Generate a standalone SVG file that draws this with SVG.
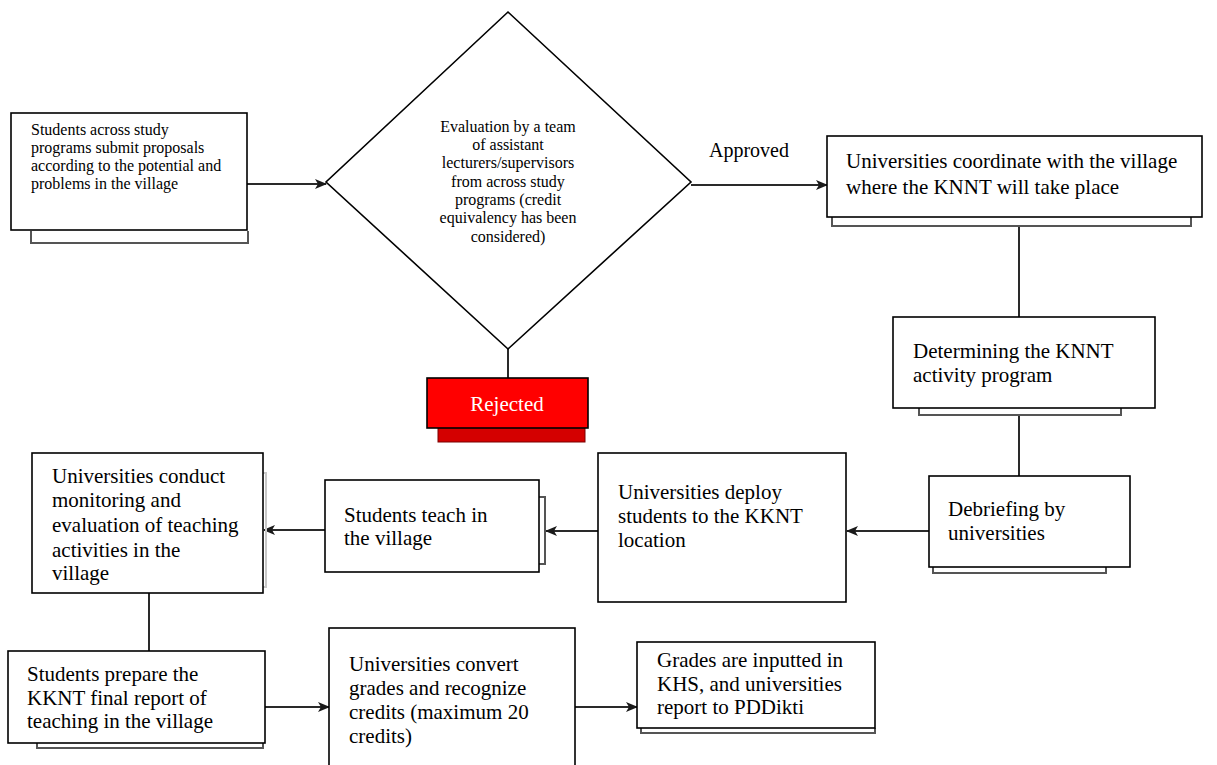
<svg xmlns="http://www.w3.org/2000/svg" width="1217" height="765" viewBox="0 0 1217 765">
  <defs>
    <style>
      .box { fill: #ffffff; stroke: #000000; stroke-width: 1.6; }
      .back { fill: none; stroke: #555555; stroke-width: 2; }
      .faint { fill: none; stroke: #c8c8c8; stroke-width: 2; }
      .conn { fill: none; stroke: #2a2a2a; stroke-width: 2; }
      .t { font-family: "Liberation Serif", "Times New Roman", serif; font-size: 21px; fill: #000000; }
      .s { font-family: "Liberation Serif", "Times New Roman", serif; font-size: 16px; fill: #000000; }
      .c { text-anchor: middle; }
    </style>
    <marker id="arrow" viewBox="0 0 12 10" refX="11" refY="5" markerWidth="12" markerHeight="10" markerUnits="userSpaceOnUse" orient="auto">
      <path d="M0,0 L12,5 L0,10 L3,5 Z" fill="#1a1a1a"/>
    </marker>
  </defs>

  <rect width="1217" height="765" fill="#ffffff"/>

  <!-- connectors -->
  <g id="connectors">
    <line class="conn" x1="247" y1="184" x2="326" y2="184" marker-end="url(#arrow)"/>
    <line class="conn" x1="508" y1="349" x2="508" y2="378"/>
    <line class="conn" x1="691" y1="185" x2="827" y2="185" marker-end="url(#arrow)"/>
    <line class="conn" x1="1019" y1="225" x2="1019" y2="317"/>
    <line class="conn" x1="1019" y1="415" x2="1019" y2="476"/>
    <line class="conn" x1="929" y1="531" x2="847" y2="531" marker-end="url(#arrow)"/>
    <line class="conn" x1="598" y1="531" x2="546" y2="531" marker-end="url(#arrow)"/>
    <line class="conn" x1="325" y1="530" x2="264" y2="530" marker-end="url(#arrow)"/>
    <line class="conn" x1="149" y1="593" x2="149" y2="651"/>
    <line class="conn" x1="265" y1="707" x2="329" y2="707" marker-end="url(#arrow)"/>
    <line class="conn" x1="575" y1="707" x2="637" y2="707" marker-end="url(#arrow)"/>
  </g>

  <!-- proposal submission -->
  <g id="submit">
    <polyline class="back" points="31,231 31,243 248,243 248,231"/>
    <rect class="box" x="11" y="113" width="236" height="117"/>
    <text class="s" x="31" y="135">Students across study</text>
    <text class="s" x="31" y="153">programs submit proposals</text>
    <text class="s" x="31" y="171">according to the potential and</text>
    <text class="s" x="31" y="189">problems in the village</text>
  </g>

  <!-- evaluation decision -->
  <g id="evaluation">
    <polygon class="box" points="508,12 691,182 508,349 326,182"/>
    <text class="s c" x="508" y="132">Evaluation by a team</text>
    <text class="s c" x="508" y="150">of assistant</text>
    <text class="s c" x="508" y="168">lecturers/supervisors</text>
    <text class="s c" x="508" y="187">from across study</text>
    <text class="s c" x="508" y="205">programs (credit</text>
    <text class="s c" x="508" y="223">equivalency has been</text>
    <text class="s c" x="508" y="242">considered)</text>
  </g>

  <g id="approved-label">
    <text class="t" x="709" y="157" style="font-size:20px">Approved</text>
  </g>

  <!-- rejected outcome -->
  <g id="rejected">
    <rect x="438" y="420" width="147" height="22" fill="#d40000" stroke="#7a0000" stroke-width="1"/>
    <rect x="427" y="378" width="161" height="50" fill="#ff0000" stroke="#000000" stroke-width="1.6"/>
    <text class="t c" x="507" y="411" style="fill:#ffffff">Rejected</text>
  </g>

  <!-- coordination with village -->
  <g id="coordinate">
    <polyline class="back" points="832,217 832,226 1191,226 1191,217"/>
    <rect class="box" x="827" y="136" width="375" height="81"/>
    <text class="t" x="846" y="168">Universities coordinate with the village</text>
    <text class="t" x="846" y="194">where the KNNT will take place</text>
  </g>

  <!-- activity programme -->
  <g id="determine">
    <polyline class="back" points="919,408 919,415 1121,415 1121,408"/>
    <rect class="box" x="893" y="317" width="262" height="91"/>
    <text class="t" x="913" y="358">Determining the KNNT</text>
    <text class="t" x="913" y="382">activity program</text>
  </g>

  <!-- debriefing -->
  <g id="debriefing">
    <polyline class="back" points="933,567 933,573 1106,573 1106,567"/>
    <rect class="box" x="929" y="476" width="201" height="91"/>
    <text class="t" x="948" y="516">Debriefing by</text>
    <text class="t" x="948" y="540">universities</text>
  </g>

  <!-- deployment -->
  <g id="deploy">
    <rect class="box" x="598" y="453" width="248" height="149"/>
    <text class="t" x="618" y="499">Universities deploy</text>
    <text class="t" x="618" y="523">students to the KKNT</text>
    <text class="t" x="618" y="547">location</text>
  </g>

  <!-- teaching -->
  <g id="teach">
    <polyline class="back" points="539,497 545,497 545,564 539,564"/>
    <rect class="box" x="325" y="480" width="214" height="92"/>
    <text class="t" x="344" y="522">Students teach in</text>
    <text class="t" x="344" y="545">the village</text>
  </g>

  <!-- monitoring -->
  <g id="monitoring">
    <polyline class="faint" points="263,473 266,473 266,587 263,587"/>
    <rect class="box" x="32" y="453" width="231" height="140"/>
    <text class="t" x="52" y="483">Universities conduct</text>
    <text class="t" x="52" y="507">monitoring and</text>
    <text class="t" x="52" y="532">evaluation of teaching</text>
    <text class="t" x="52" y="557">activities in the</text>
    <text class="t" x="52" y="580">village</text>
  </g>

  <!-- final report -->
  <g id="report">
    <polyline class="back" points="37,743 37,748 263,748 263,743"/>
    <rect class="box" x="8" y="651" width="257" height="92"/>
    <text class="t" x="27" y="681">Students prepare the</text>
    <text class="t" x="27" y="705">KKNT final report of</text>
    <text class="t" x="27" y="728">teaching in the village</text>
  </g>

  <!-- credit conversion -->
  <g id="convert">
    <rect class="box" x="329" y="628" width="246" height="145"/>
    <text class="t" x="349" y="671">Universities convert</text>
    <text class="t" x="349" y="695">grades and recognize</text>
    <text class="t" x="349" y="719">credits (maximum 20</text>
    <text class="t" x="349" y="743">credits)</text>
  </g>

  <!-- grade input -->
  <g id="grades">
    <polyline class="back" points="641,728 641,733 875,733 875,728"/>
    <rect class="box" x="637" y="642" width="238" height="86"/>
    <text class="t" x="657" y="667">Grades are inputted in</text>
    <text class="t" x="657" y="691">KHS, and universities</text>
    <text class="t" x="657" y="714">report to PDDikti</text>
  </g>
</svg>
